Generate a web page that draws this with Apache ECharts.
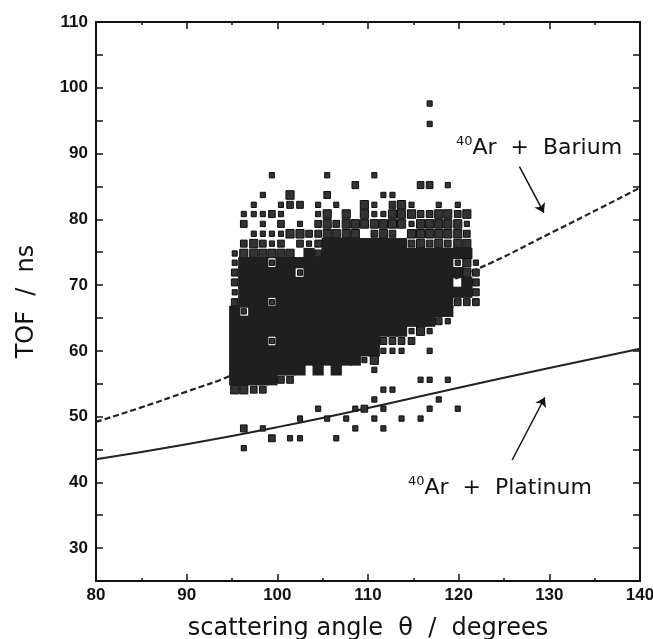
<!DOCTYPE html>
<html>
<head>
<meta charset="utf-8">
<script src="https://cdn.jsdelivr.net/npm/echarts@6/dist/echarts.min.js"></script>
<style>
  html, body { margin: 0; padding: 0; background: #fff; }
  #chart { width: 653px; height: 639px; }
</style>
</head>
<body>
<div id="chart"></div>
<script>
  // bin centres of the TOF / angle histogram
  const angleBins = [95.3, 96.3, 97.4, 98.4, 99.4, 100.4, 101.4, 102.5, 103.5, 104.5, 105.5, 106.5, 107.6, 108.6,
    109.6, 110.7, 111.7, 112.7, 113.7, 114.8, 115.8, 116.8, 117.8, 118.8, 119.9, 120.9, 121.9];
  const tofBins = [86.7, 85.2, 83.7, 82.2, 80.8, 79.3, 77.8, 76.3, 74.8, 73.4, 71.9, 70.4, 68.9, 67.4, 66.0,
    64.5, 63.0, 61.5, 60.0, 58.6, 57.1, 55.6, 54.1, 52.6, 51.2, 49.7, 48.2, 46.7, 45.2];
  const binWidth = 1.02;
  const binHeight = 1.48;

  // one string per angle bin, from 86.7 ns down to 45.2 ns
  // '.' empty, '1' '2' '3' partly filled box, '#' full box
  const countColumns = [
    '........112212########3......',
    '....12.23#####1#######3...2.1',
    '...11.133#############2......',
    '..1.11123#############2...1..',
    '1...2.1131###1###1####.....2.',
    '...112123############2.......',
    '..32..3.3############2.....1.',
    '...2.132.#1##########....1.1.',
    '......21############.........',
    '...112222############...1....',
    '1.2.333#############.....1...',
    '...1.23##############......1.',
    '....333#############.....1...',
    '.2...33#############....1.1..',
    '...333.############1....2....',
    '1..1132############31..1.1...',
    '..1.133##########21...1.1.1..',
    '..12332##########21...1......',
    '...333.##########21......1...',
    '...13132########12...........',
    '.2..2333########3....1...1...',
    '.2..2332########1.1..1..1....',
    '...13333#######2.......1.....',
    '.1..3332#######1.....1.......',
    '...12333#1#.#2..........1....',
    '....3123#33##2...............',
    '.........12222...............'
  ];
  const outliers = [[116.8, 97.6], [116.8, 94.5]];

  const bariumCurve = [[80, 49.2], [85, 51.4], [90, 53.8], [95, 56.3], [122, 72.4], [130, 77.8], [140, 84.8]];
  const platinumCurve = [[80, 43.5], [90, 45.8], [100, 48.4], [110, 51.3], [120, 54.4], [130, 57.4], [140, 60.3]];

  const yTickLabels = [30, 40, 50, 60, 70, 80, 90, 100, 110];
  const yTickMarks = [30, 35, 40, 45, 50, 55, 60, 65, 70, 75, 80, 85, 90, 95, 100, 105, 110];

  const cells = [];
  countColumns.forEach((col, k) => {
    for (let i = 0; i < col.length; i++) {
      const c = col[i];
      if (c === '.') continue;
      cells.push([angleBins[k], tofBins[i], c === '#' ? 4 : Number(c)]);
    }
  });
  outliers.forEach((p) => cells.push([p[0], p[1], 1]));

  const boxScale = [0, 0.55, 0.72, 0.88, 1];
  function renderCell(params, api) {
    const pt = api.coord([api.value(0), api.value(1)]);
    const size = api.size([binWidth, binHeight]);
    const lvl = api.value(2);
    const full = lvl === 4;
    // full boxes overlap a little so the dense core reads as one black area
    const w = full ? size[0] + 2 : size[0] * boxScale[lvl];
    const h = full ? size[1] + 1.5 : size[1] * boxScale[lvl];
    return {
      type: 'rect',
      shape: {x: pt[0] - w / 2, y: pt[1] - h / 2, width: w, height: h},
      style: full ? {fill: '#1f1f1f'} : {fill: '#333', stroke: '#0d0d0d', lineWidth: 1}
    };
  }

  const ink = '#111';
  const labelFont = {fontSize: 17, fontWeight: 'bold', color: ink, fontFamily: 'Liberation Sans'};
  const frame = {show: true, lineStyle: {color: ink, width: 2}};
  const tick = {show: true, inside: true, length: 7, lineStyle: {color: ink, width: 1.5}};

  function annotation(x, y, name) {
    return {
      coord: [x, y],
      symbol: 'circle',
      symbolSize: 0,
      label: {
        show: true,
        position: 'right',
        distance: 0,
        formatter: '{sup|40}{txt|Ar  +  ' + name + '}',
        rich: {
          sup: {fontSize: 13, color: ink, fontFamily: 'DejaVu Sans', verticalAlign: 'top', lineHeight: 14},
          txt: {fontSize: 22, color: ink, fontFamily: 'DejaVu Sans', lineHeight: 26}
        }
      }
    };
  }

  const chart = echarts.init(document.getElementById('chart'));
  const options = {
    animation: false,
    backgroundColor: '#fff',
    grid: {left: 96, right: 13, top: 22, bottom: 58, outerBoundsMode: 'none'},
    xAxis: [
      {
        type: 'value',
        min: 80,
        max: 140,
        interval: 10,
        position: 'bottom',
        axisLine: frame,
        axisTick: tick,
        minorTick: {show: true, splitNumber: 2, length: 3, lineStyle: {color: ink, width: 1.5}},
        axisLabel: Object.assign({margin: 6}, labelFont),
        splitLine: {show: false},
        name: 'scattering angle  θ  /  degrees',
        nameLocation: 'middle',
        nameGap: 36,
        nameTextStyle: {fontSize: 24, color: ink, fontFamily: 'DejaVu Sans'}
      },
      {
        type: 'value',
        min: 80,
        max: 140,
        interval: 10,
        position: 'top',
        axisLine: frame,
        axisTick: tick,
        minorTick: {show: true, splitNumber: 2, length: 3, lineStyle: {color: ink, width: 1.5}},
        axisLabel: {show: false},
        splitLine: {show: false}
      }
    ],
    yAxis: [
      {
        type: 'value',
        min: 25,
        max: 110,
        position: 'left',
        axisLine: frame,
        axisTick: Object.assign({customValues: yTickMarks}, tick),
        axisLabel: Object.assign({margin: 8, customValues: yTickLabels}, labelFont),
        splitLine: {show: false},
        name: 'TOF  /  ns',
        nameLocation: 'middle',
        nameGap: 57,
        nameTextStyle: {fontSize: 24, color: ink, fontFamily: 'DejaVu Sans'}
      },
      {
        type: 'value',
        min: 25,
        max: 110,
        position: 'right',
        axisLine: frame,
        axisTick: Object.assign({customValues: yTickMarks}, tick),
        axisLabel: {show: false},
        splitLine: {show: false}
      }
    ],
    series: [
      {
        name: 'Barium',
        type: 'line',
        data: bariumCurve,
        smooth: true,
        showSymbol: false,
        silent: true,
        z: 1,
        lineStyle: {color: '#222', width: 2.2, type: [6, 3]},
        markLine: {
          silent: true,
          symbol: ['none', 'arrow'],
          symbolSize: 9,
          label: {show: false},
          lineStyle: {type: 'solid', color: ink, width: 1.5},
          data: [[{coord: [126.7, 88.0]}, {coord: [129.4, 81.0]}]]
        },
        markPoint: {silent: true, data: [annotation(119.7, 90.8, 'Barium')]}
      },
      {
        name: 'Platinum',
        type: 'line',
        data: platinumCurve,
        smooth: true,
        showSymbol: false,
        silent: true,
        z: 1,
        lineStyle: {color: '#222', width: 2},
        markLine: {
          silent: true,
          symbol: ['none', 'arrow'],
          symbolSize: 9,
          label: {show: false},
          lineStyle: {type: 'solid', color: ink, width: 1.5},
          data: [[{coord: [125.9, 43.4]}, {coord: [129.5, 52.9]}]]
        },
        markPoint: {silent: true, data: [annotation(114.4, 39.1, 'Platinum')]}
      },
      {
        name: 'counts',
        type: 'custom',
        data: cells,
        renderItem: renderCell,
        encode: {x: 0, y: 1},
        silent: true,
        z: 3
      }
    ]
  };
  chart.setOption(options);
</script>
</body>
</html>
